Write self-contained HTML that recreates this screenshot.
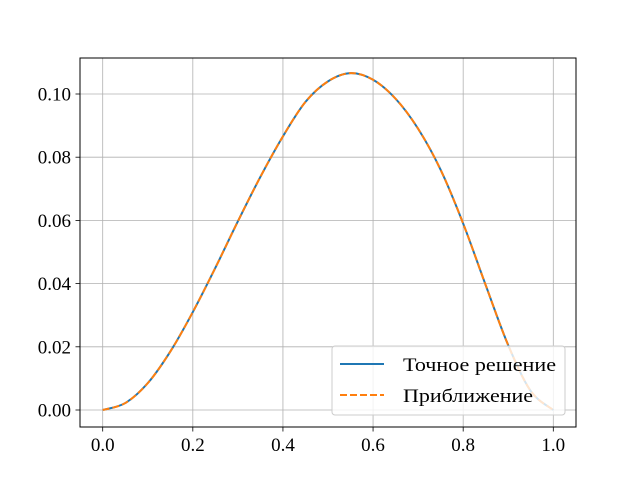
<!DOCTYPE html>
<html><head><meta charset="utf-8"><style>
body{margin:0;background:#fff}
svg{display:block;font-family:"Liberation Serif",serif}
</style></head><body>
<svg id="chart" width="640" height="480" viewBox="0 0 640 480">
<rect x="0" y="0" width="640" height="480" fill="#fff"/>
<g id="grid"></g>
<g id="ticks"></g>
<g id="series"></g>
<rect x="80" y="58" width="496" height="369" fill="none" stroke="#000" stroke-width="1"/>
<g>
<rect x="332" y="346" width="233" height="69" rx="3" fill="#fff" fill-opacity="0.8" stroke="#ccc"/>
<line x1="340" y1="364" x2="384" y2="364" stroke="#1f77b4" stroke-width="2"/>
<text x="403" y="371" font-size="19" textLength="153" lengthAdjust="spacingAndGlyphs">Точное решение</text>
<line x1="340" y1="395" x2="384" y2="395" stroke="#ff7f0e" stroke-width="2" stroke-dasharray="7,3"/>
<text x="403" y="402" font-size="19" textLength="130" lengthAdjust="spacingAndGlyphs">Приближение</text>
</g>
</svg>
<script>
const xs=[0,0.05,0.1,0.15,0.2,0.25,0.3,0.35,0.4,0.45,0.5,0.55,0.6,0.65,0.7,0.75,0.8,0.85,0.9,0.95,1.0];
const exact=[0,0.0022,0.0085,0.0185,0.031,0.045,0.0597,0.0738,0.0866,0.0975,0.1040,0.1066,0.1045,0.0985,0.0890,0.0760,0.0590,0.0395,0.0205,0.0060,0];
const approx=[0,0.0022,0.0085,0.0185,0.031,0.045,0.0597,0.0738,0.0866,0.0975,0.1040,0.1066,0.1045,0.0985,0.0890,0.0760,0.0590,0.0395,0.0205,0.0060,0];
const xTicks=[0,0.2,0.4,0.6,0.8,1.0];
const xTickLabels=["0.0","0.2","0.4","0.6","0.8","1.0"];
const yTicks=[0,0.02,0.04,0.06,0.08,0.10];
const yTickLabels=["0.00","0.02","0.04","0.06","0.08","0.10"];
const NS="http://www.w3.org/2000/svg";
function X(v){return 102.7+v*450.6;}
function Y(v){return 410-v*3160;}
function mk(t,a,p){const e=document.createElementNS(NS,t);for(const k in a)e.setAttribute(k,a[k]);p.appendChild(e);return e;}
const grid=document.getElementById('grid'),ticks=document.getElementById('ticks'),ser=document.getElementById('series');
xTicks.forEach((v,i)=>{
 const g=mk('line',{x1:X(v),x2:X(v),y1:58,y2:427,stroke:'#b0b0b0','stroke-width':0.8},grid);
 
 
 const t=mk('line',{x1:X(v),x2:X(v),y1:427,y2:431.5,stroke:'#000','stroke-width':0.8},ticks);
 
 
 const l=mk('text',{x:X(v),y:451,'font-size':19,'text-anchor':'middle'},ticks);l.textContent=xTickLabels[i];
 
 
});
yTicks.forEach((v,i)=>{
 const g=mk('line',{x1:80,x2:576,y1:Y(v),y2:Y(v),stroke:'#b0b0b0','stroke-width':0.8},grid);
 
 
 const t=mk('line',{x1:75.5,x2:80,y1:Y(v),y2:Y(v),stroke:'#000','stroke-width':0.8},ticks);
 
 
 const l=mk('text',{x:71,y:Y(v)+6.5,'font-size':19,'text-anchor':'end'},ticks);l.textContent=yTickLabels[i];
 
 
});
function pathD(ys){
 const P=xs.map((x,i)=>[X(x),Y(ys[i])]);
 let d='M'+P[0][0]+','+P[0][1];
 for(let i=0;i<P.length-1;i++){
  const p0=P[Math.max(i-1,0)],p1=P[i],p2=P[i+1],p3=P[Math.min(i+2,P.length-1)];
  const c1=[p1[0]+(p2[0]-p0[0])/6,p1[1]+(p2[1]-p0[1])/6],c2=[p2[0]-(p3[0]-p1[0])/6,p2[1]-(p3[1]-p1[1])/6];
  d+=' C'+c1+' '+c2+' '+p2;
 }
 return d;
}
const a=mk('path',{d:pathD(exact),fill:'none',stroke:'#1f77b4','stroke-width':2},ser);


const b=mk('path',{d:pathD(approx),fill:'none',stroke:'#ff7f0e','stroke-width':2,'stroke-dasharray':'7,3'},ser);


</script>
</body></html>
